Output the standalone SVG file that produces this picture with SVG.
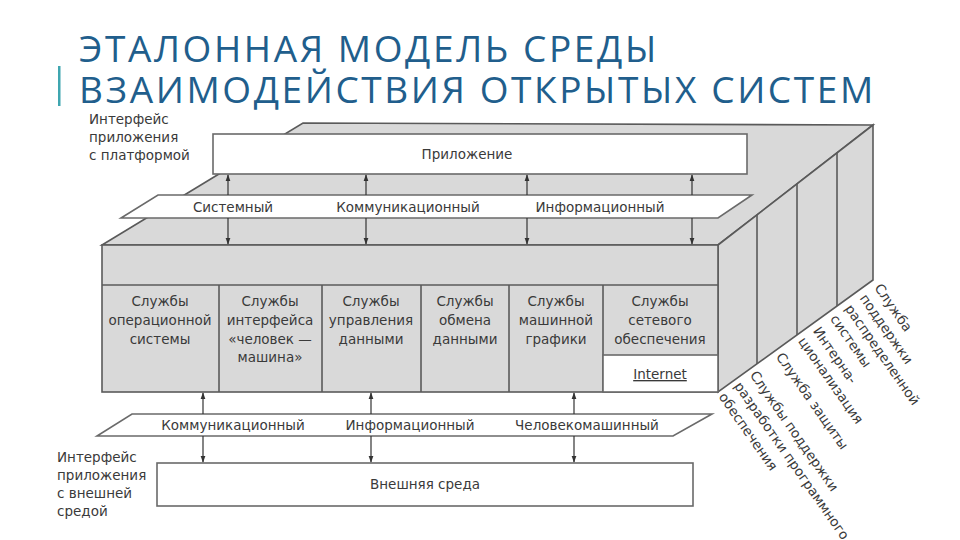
<svg xmlns="http://www.w3.org/2000/svg" width="960" height="540" viewBox="0 0 960 540">
<defs>
<style>
.t{font-family:"DejaVu Sans","Liberation Sans",sans-serif;font-size:13.5px;fill:#3a3a3a}
.c{text-anchor:middle}
.g{fill:#d9d9d9;stroke:#5a5a5a;stroke-width:1.6}
.w{fill:#ffffff;stroke:#6a6a6a;stroke-width:1.6}
.ln{stroke:#5a5a5a;stroke-width:1.6;fill:none}
.ar{stroke:#333;stroke-width:1.2;fill:none}
.title{font-family:"Open Sans","DejaVu Sans",sans-serif;font-size:37px;fill:#215e8c;letter-spacing:2.6px}
</style>
<marker id="ah" viewBox="0 0 10 10" refX="9" refY="5" markerWidth="7" markerHeight="7" orient="auto-start-reverse" markerUnits="userSpaceOnUse">
<path d="M0,1.5 L10,5 L0,8.5 z" fill="#333"/>
</marker>
</defs>
<rect width="960" height="540" fill="#fff"/>

<g id="title">
<rect x="58" y="66" width="2.5" height="40" fill="#3fa6b0"/>
<text class="title" x="79" y="62">ЭТАЛОННАЯ МОДЕЛЬ СРЕДЫ</text>
<text class="title" x="79" y="103">ВЗАИМОДЕЙСТВИЯ ОТКРЫТЫХ СИСТЕМ</text>
</g>

<g id="box">
<polygon class="g" points="303,123 873,125 718,245 102,245"/>
<polygon class="g" points="718,245 873,125 873,280 718,392"/>
<rect class="g" x="102" y="245" width="616" height="147"/>
<line class="ln" x1="102" y1="285" x2="718" y2="285"/>
<line class="ln" x1="757" y1="215" x2="757" y2="364"/>
<line class="ln" x1="797" y1="184" x2="797" y2="335"/>
<line class="ln" x1="837" y1="153" x2="837" y2="306"/>
</g>

<g id="cells">
<line class="ln" x1="219" y1="285" x2="219" y2="392"/>
<line class="ln" x1="322" y1="285" x2="322" y2="392"/>
<line class="ln" x1="421" y1="285" x2="421" y2="392"/>
<line class="ln" x1="509" y1="285" x2="509" y2="392"/>
<line class="ln" x1="603" y1="285" x2="603" y2="392"/>
<g id="cell1"><text class="t c" x="160" y="306">Службы</text><text class="t c" x="160" y="325">операционной</text><text class="t c" x="160" y="344">системы</text></g>
<g id="cell2"><text class="t c" x="270" y="306">Службы</text><text class="t c" x="270" y="325">интерфейса</text><text class="t c" x="270" y="344">«человек —</text><text class="t c" x="270" y="362">машина»</text></g>
<g id="cell3"><text class="t c" x="371" y="306">Службы</text><text class="t c" x="371" y="325">управления</text><text class="t c" x="371" y="344">данными</text></g>
<g id="cell4"><text class="t c" x="465" y="306">Службы</text><text class="t c" x="465" y="325">обмена</text><text class="t c" x="465" y="344">данными</text></g>
<g id="cell5"><text class="t c" x="556" y="306">Службы</text><text class="t c" x="556" y="325">машинной</text><text class="t c" x="556" y="344">графики</text></g>
<g id="cell6"><text class="t c" x="660" y="306">Службы</text><text class="t c" x="660" y="325">сетевого</text><text class="t c" x="660" y="344">обеспечения</text></g>
<g id="internet"><rect class="w" x="603" y="355" width="115" height="37"/><text class="t c" x="660" y="379" text-decoration="underline">Internet</text></g>
</g>

<g id="app">
<rect class="w" x="213" y="134" width="534" height="40"/>
<text class="t c" x="467" y="159">Приложение</text>
</g>

<g id="layer-top">
<polygon class="w" points="158,195 752,195 718,218 121,218"/>
<text class="t c" x="233" y="212">Системный</text>
<text class="t c" x="408" y="212">Коммуникационный</text>
<text class="t c" x="600" y="212">Информационный</text>
</g>

<g id="layer-bottom">
<polygon class="w" points="132,414 712,414 673,436 97,436"/>
<text class="t c" x="233" y="430">Коммуникационный</text>
<text class="t c" x="410" y="430">Информационный</text>
<text class="t c" x="587" y="430">Человекомашинный</text>
</g>

<g id="ext">
<rect class="w" x="157" y="463" width="536" height="43"/>
<text class="t c" x="425" y="489">Внешняя среда</text>
</g>

<g id="connectors">
<line class="ar" x1="228" y1="195" x2="228" y2="175" marker-end="url(#ah)"/>
<line class="ar" x1="366" y1="195" x2="366" y2="175" marker-end="url(#ah)"/>
<line class="ar" x1="527" y1="195" x2="527" y2="175" marker-end="url(#ah)"/>
<line class="ar" x1="692" y1="195" x2="692" y2="175" marker-end="url(#ah)"/>
<line class="ar" x1="228" y1="218" x2="228" y2="244" marker-end="url(#ah)"/>
<line class="ar" x1="366" y1="218" x2="366" y2="244" marker-end="url(#ah)"/>
<line class="ar" x1="527" y1="218" x2="527" y2="244" marker-end="url(#ah)"/>
<line class="ar" x1="692" y1="218" x2="692" y2="244" marker-end="url(#ah)"/>
<line class="ar" x1="203" y1="414" x2="203" y2="393" marker-end="url(#ah)"/>
<line class="ar" x1="371" y1="414" x2="371" y2="393" marker-end="url(#ah)"/>
<line class="ar" x1="574" y1="414" x2="574" y2="393" marker-end="url(#ah)"/>
<line class="ar" x1="203" y1="436" x2="203" y2="462" marker-end="url(#ah)"/>
<line class="ar" x1="371" y1="436" x2="371" y2="462" marker-end="url(#ah)"/>
<line class="ar" x1="574" y1="436" x2="574" y2="462" marker-end="url(#ah)"/>
</g>

<g id="label-platform">
<text class="t" x="89" y="124">Интерфейс</text>
<text class="t" x="89" y="142">приложения</text>
<text class="t" x="89" y="160">с платформой</text>
</g>
<g id="label-external">
<text class="t" x="57" y="462">Интерфейс</text>
<text class="t" x="57" y="480">приложения</text>
<text class="t" x="57" y="498">с внешней</text>
<text class="t" x="57" y="516">средой</text>
</g>

<g id="side-labels" transform="translate(878,285) rotate(55)">
<g id="side1"><text class="t" x="0" y="5">Служба</text><text class="t" x="0" y="23">поддержки</text><text class="t" x="0" y="41">распределенной</text><text class="t" x="0" y="59">системы</text></g>
<g id="side2"><text class="t" x="0" y="80">Интерна-</text><text class="t" x="0" y="98">ционализация</text></g>
<g id="side3"><text class="t" x="0" y="125">Служба защиты</text></g>
<g id="side4"><text class="t" x="0" y="157">Службы поддержки</text><text class="t" x="0" y="176">разработки программного</text><text class="t" x="0" y="195">обеспечения</text></g>
</g>
</svg>
